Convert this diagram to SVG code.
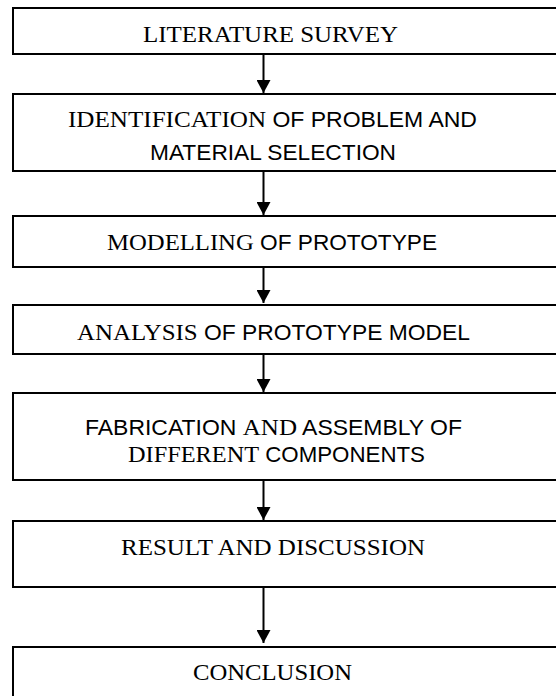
<svg xmlns="http://www.w3.org/2000/svg" width="556" height="696" viewBox="0 0 556 696">
<style>
.box{fill:#fff;stroke:#000;stroke-width:2}
.t{font-size:24px;fill:#000;text-anchor:middle}
.s{font-family:"Liberation Serif","Times New Roman",serif;font-size:24px}
.a{font-family:"Liberation Sans",Arial,sans-serif;font-size:22px}
.c{stroke:#000;stroke-width:2;fill:none}
</style>
<defs>
<marker id="ah" markerUnits="userSpaceOnUse" markerWidth="14" markerHeight="14" refX="13" refY="7" orient="auto">
<path d="M0,0 L13,7 L0,14 Z" fill="#000"/>
</marker>
</defs>
<rect width="556" height="696" fill="#fff"/>
<g id="n1"><rect class="box" x="13" y="8" width="560" height="46"/>
<text class="t s" x="270.5" y="42" textLength="255" lengthAdjust="spacingAndGlyphs">LITERATURE SURVEY</text></g>
<g id="n2"><rect class="box" x="13" y="94" width="560" height="77"/>
<text class="t" x="272.5" y="127" textLength="409" lengthAdjust="spacingAndGlyphs"><tspan class="s">IDENTIFICATION</tspan><tspan class="a"> OF PROBLEM AND</tspan></text>
<text class="t a" x="273" y="160" textLength="246" lengthAdjust="spacingAndGlyphs">MATERIAL SELECTION</text></g>
<g id="n3"><rect class="box" x="13" y="216" width="560" height="51"/>
<text class="t" x="272" y="250" textLength="330" lengthAdjust="spacingAndGlyphs"><tspan class="s">MODELLING</tspan><tspan class="a"> OF PROTOTYPE</tspan></text></g>
<g id="n4"><rect class="box" x="13" y="305" width="560" height="49"/>
<text class="t" x="273.5" y="340" textLength="393" lengthAdjust="spacingAndGlyphs"><tspan class="s">ANALYSIS</tspan><tspan class="a"> OF PROTOTYPE MODEL</tspan></text></g>
<g id="n5"><rect class="box" x="13" y="393" width="560" height="87"/>
<text class="t" x="273.5" y="435" textLength="377" lengthAdjust="spacingAndGlyphs"><tspan class="a">FABRICATION </tspan><tspan class="s">AND</tspan><tspan class="a"> ASSEMBLY OF</tspan></text>
<text class="t" x="276.5" y="462" textLength="297" lengthAdjust="spacingAndGlyphs"><tspan class="s">DIFFERENT</tspan><tspan class="a"> COMPONENTS</tspan></text></g>
<g id="n6"><rect class="box" x="13" y="521" width="560" height="66"/>
<text class="t s" x="273" y="555" textLength="304" lengthAdjust="spacingAndGlyphs">RESULT AND DISCUSSION</text></g>
<g id="n7"><rect class="box" x="13" y="647" width="560" height="60"/>
<text class="t s" x="272.5" y="680" textLength="159" lengthAdjust="spacingAndGlyphs">CONCLUSION</text></g>
<g id="connectors">
<line class="c" x1="263.5" y1="54" x2="263.5" y2="93" marker-end="url(#ah)"/>
<line class="c" x1="263.5" y1="171" x2="263.5" y2="215" marker-end="url(#ah)"/>
<line class="c" x1="263.5" y1="267" x2="263.5" y2="303" marker-end="url(#ah)"/>
<line class="c" x1="263.5" y1="354" x2="263.5" y2="392" marker-end="url(#ah)"/>
<line class="c" x1="263.5" y1="480" x2="263.5" y2="520" marker-end="url(#ah)"/>
<line class="c" x1="263.5" y1="587" x2="263.5" y2="643" marker-end="url(#ah)"/>
</g>
</svg>
